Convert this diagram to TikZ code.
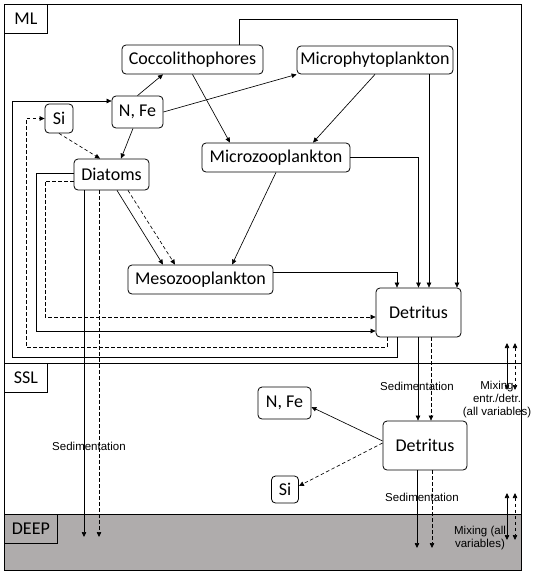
\documentclass[tikz,border=0pt]{standalone}
\usepackage{fontspec}
\usetikzlibrary{arrows.meta}
\newfontfamily\calfam{Carlito}
\newfontfamily\arialfam{Liberation Sans}
\newcommand{\boxfont}{\calfam\fontsize{18}{20}\selectfont}
\newcommand{\notefont}{\arialfam\fontsize{11.5}{13}\selectfont}
\definecolor{deepgray}{RGB}{175,172,172}

\begin{document}
\begin{tikzpicture}[x=1pt,y=-1pt,
    box/.style={draw, rounded corners=4pt, font=\boxfont, inner sep=0pt, line width=0.8pt},
    layer/.style={draw, font=\boxfont, inner sep=0pt, anchor=north west, line width=0.8pt, minimum height=29pt},
    flow/.style={-{Triangle[length=5pt,width=4.5pt]}, line width=0.65pt},
    dflow/.style={flow, dash pattern=on 3.5pt off 2.5pt},
    mix/.style={{Triangle[length=5pt,width=4.5pt]}-{Triangle[length=5pt,width=4.5pt]}, line width=0.65pt},
    note/.style={font=\notefont, align=center, inner sep=0pt}]
    \useasboundingbox (0,0) rectangle (539,576);

    % Layers
    \fill[deepgray] (4,514) rectangle (521,570);
    \draw[line width=0.8pt] (4,4) rectangle (521,570);
    \draw[line width=0.8pt] (4,363) -- (521,363);
    \draw[line width=0.8pt] (4,514) -- (521,514);
    \node (ml) at (4,4) [layer, minimum width=43pt] {ML};
    \node (ssl) at (4,363) [layer, minimum width=43pt] {SSL};
    \node (deep) at (4,514) [layer, minimum width=53pt] {DEEP};

    % Compartments
    \node (cocco) at (192.5,59.5) [box, minimum width=141pt, minimum height=29pt] {Coccolithophores};
    \node (microphyto) at (375,60) [box, minimum width=156pt, minimum height=28pt] {Microphytoplankton};
    \node (nfe) at (137.5,112) [box, minimum width=51pt, minimum height=32pt] {N, Fe};
    \node (si) at (59,118.5) [box, minimum width=28pt, minimum height=29pt] {Si};
    \node (diatoms) at (111.5,174.5) [box, minimum width=75pt, minimum height=31pt] {Diatoms};
    \node (microzoo) at (276,157.5) [box, minimum width=148pt, minimum height=29pt] {Microzooplankton};
    \node (mesozoo) at (200.5,279.5) [box, minimum width=145pt, minimum height=29pt] {Mesozooplankton};
    \node (detML) at (418.5,312.5) [box, minimum width=85pt, minimum height=49pt] {Detritus};
    \node (nfe2) at (284.5,403) [box, minimum width=53pt, minimum height=32pt] {N, Fe};
    \node (detSSL) at (425,445.5) [box, minimum width=84pt, minimum height=49pt] {Detritus};
    \node (si2) at (285,489.5) [box, minimum width=27pt, minimum height=27pt] {Si};

    % Uptake and grazing
    \draw[flow] (nfe.north) -- ([xshift=-29.5pt]cocco.south);
    \draw[flow] (nfe.east) -- (microphyto.south west);
    \draw[flow] ([xshift=-4.5pt]nfe.south) -- ([xshift=9.5pt]diatoms.north);
    \draw[dflow] (si.south) -- ([xshift=-11.5pt]diatoms.north);
    \draw[flow] (cocco.south) -- ([xshift=-46pt]microzoo.north);
    \draw[flow] (microphyto.south) -- ([xshift=37pt]microzoo.north);
    \draw[flow] ([xshift=5.5pt]diatoms.south) -- ([xshift=-37.5pt]mesozoo.north);
    \draw[dflow] ([xshift=16.5pt]diatoms.south) -- ([xshift=-25.5pt]mesozoo.north);
    \draw[flow] (microzoo.south) -- ([xshift=31.5pt]mesozoo.north);

    % To detritus
    \draw[flow] ([xshift=46.5pt]cocco.north) |- (457,19) -- (detML.north -| 457,19);
    \draw[flow] (microphyto.south -| 429,0) -- (detML.north -| 429,0);
    \draw[flow] (microzoo.east) -| (detML.north);
    \draw[flow] ([yshift=7.5pt]mesozoo.east) -| ([xshift=-21.5pt]detML.north);
    \draw[flow] ([yshift=1.5pt]diatoms.west) -| (36,331) -- (detML.west |- 36,331);
    \draw[dflow] ([yshift=-6.5pt]diatoms.west) -| (45,317) -- (detML.west |- 45,317);

    % Remineralisation
    \draw[flow] ([xshift=-21.5pt]detML.south) |- (12,357) |- ([yshift=11pt]nfe.west);
    \draw[dflow] ([xshift=-31.5pt]detML.south) |- (26,347) |- (si.west);
    \draw[flow] ([yshift=4.5pt]detSSL.west) -- ([yshift=-4pt]nfe2.east);
    \draw[dflow] ([yshift=2.5pt]detSSL.west) -- ([yshift=3.5pt]si2.east);

    % Sedimentation
    \coordinate (sedA) at (84,537);
    \coordinate (sedB) at (99,537);
    \coordinate (sedC) at (417,548);
    \coordinate (sedD) at (432,548);
    \draw[flow] ([xshift=-27.5pt]diatoms.south) -- (sedA);
    \draw[dflow] ([xshift=-12.5pt]diatoms.south) -- (sedB);
    \draw[flow] ([xshift=-0.5pt]detML.south) -- (detSSL.north -| 418,0);
    \draw[dflow] ([xshift=12.5pt]detML.south) -- (detSSL.north -| 431,0);
    \draw[flow] (detSSL.south -| sedC) -- (sedC);
    \draw[dflow] (detSSL.south -| sedD) -- (sedD);
    \node (sed1) at (89,446) [note] {Sedimentation};
    \node (sed2) at (417,386) [note] {Sedimentation};
    \node (sed3) at (422,497) [note] {Sedimentation};

    % Mixing
    \foreach \ytop/\ybot in {343/390, 493/540}
    {
        \draw[mix] (507,\ytop) -- (507,\ybot);
        \draw[mix, dash pattern=on 3.5pt off 2.5pt] (515,\ytop) -- (515,\ybot);
    }
    \node (mix1) at (497,400) [note] {Mixing\\entr./detr.\\(all variables)};
    \node (mix2) at (480,538) [note] {Mixing (all\\variables)};
\end{tikzpicture}
\end{document}
